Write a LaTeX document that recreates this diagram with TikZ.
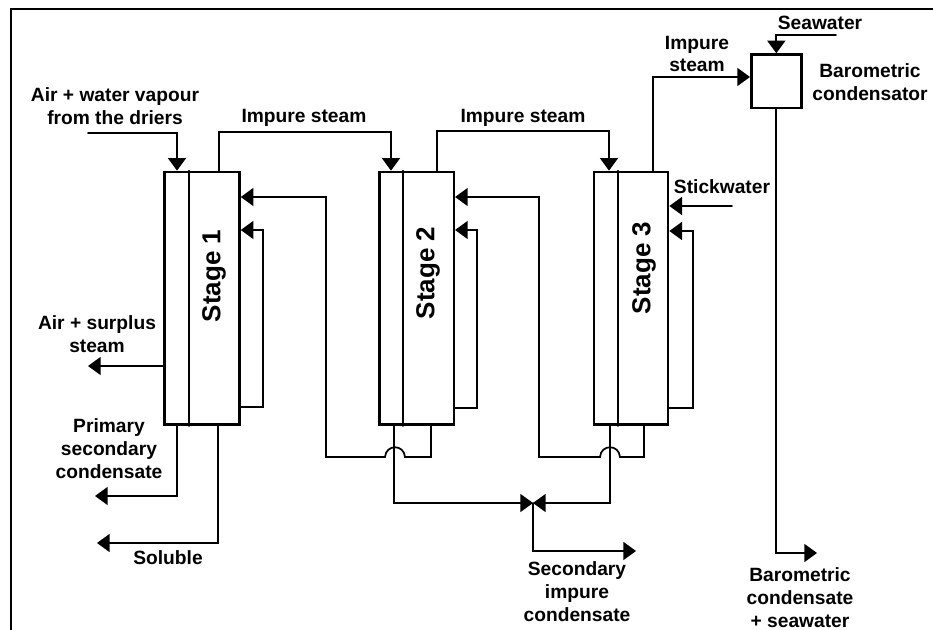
\documentclass[tikz,border=0pt]{standalone}
\usepackage{fontspec}
\setmainfont{Liberation Sans}
\usetikzlibrary{arrows.meta}

\tikzset{
    unit/.style={draw, line width=1.9pt, rectangle, inner sep=0pt, anchor=north west},
    flow/.style={line width=1.3pt, -{Triangle[length=9.5pt,width=13.5pt]}},
    pipe/.style={line width=1.3pt},
    lbl/.style={align=center, inner sep=0pt, font=\bfseries\fontsize{14.4}{17.2}\selectfont},
    stagelbl/.style={rotate=90, inner sep=0pt, font=\bfseries\fontsize{19.5}{22}\selectfont},
}

\begin{document}
\begin{tikzpicture}[x=0.75pt, y=-0.75pt, line cap=round, line join=miter]
    \useasboundingbox (0,0) rectangle (933,630);
    \draw[line width=1.6pt] (11,630) -- (11,9) -- (933,9);

    % the three stages and the condensator
    \node[unit, minimum width=56.2pt, minimum height=189.6pt] (stageA) at (163.3,170.7) {};
    \node[unit, minimum width=55.9pt, minimum height=189.6pt] (stageB) at (378,170.7) {};
    \node[unit, minimum width=55.6pt, minimum height=189.6pt] (stageC) at (592.7,170.7) {};
    \node[unit, minimum width=37.6pt, minimum height=40.1pt] (cond) at (750,53.3) {};

    \draw[pipe] (189,0 |- stageA.north) -- (189,0 |- stageA.south);
    \draw[pipe] (403,0 |- stageB.north) -- (403,0 |- stageB.south);
    \draw[pipe] (618,0 |- stageC.north) -- (618,0 |- stageC.south);

    \node[stagelbl] (nameA) at (214,276) {Stage 1};
    \node[stagelbl] (nameB) at (428,273) {Stage 2};
    \node[stagelbl] (nameC) at (644,268) {Stage 3};

    % free ends
    \coordinate (driers) at (88,133);
    \coordinate (surplus) at (88,366);
    \coordinate (primary) at (95,496);
    \coordinate (soluble) at (97,543);
    \coordinate (stick) at (732,206);
    \coordinate (sea) at (836,35);
    \coordinate (barOut) at (817,553);
    \coordinate (impOut) at (636,551);
    \coordinate (junction) at (533,503);

    % steam
    \draw[flow] (driers) -| (177,0 |- stageA.north);
    \draw[flow] (219,0 |- stageA.north) |- (305,132) -| (391,0 |- stageB.north);
    \draw[flow] (437,0 |- stageB.north) |- (520,131) -| (609,0 |- stageC.north);
    \draw[flow] (653,0 |- stageC.north) |- (cond.west |- 0,77);
    \draw[flow] (sea) -| (cond.north);
    \draw[flow] (cond.south) |- (barOut);
    \draw[flow] (stick) -- (stageC.east |- stick);

    % recycle loops
    \draw[flow] (stageA.east |- 0,407) -| (263,318) |- (stageA.east |- 0,230);
    \draw[flow] (stageB.east |- 0,408) -| (477,318) |- (stageB.east |- 0,230);
    \draw[flow] (stageC.east |- 0,408) -| (693,318) |- (stageC.east |- 0,231);

    % condensate passed back, hopping over the outlet
    \draw[flow] (431,0 |- stageB.south) |- (405,457)
        .. controls (404,444) and (386,444) .. (385,457)
        -| (326,300) |- (stageA.east |- 0,197);
    \draw[flow] (644,0 |- stageC.south) |- (620,457)
        .. controls (619,444) and (601,444) .. (600,457)
        -| (539,300) |- (stageB.east |- 0,197);

    % outlets
    \draw[flow] (stageA.west |- surplus) -- (surplus);
    \draw[flow] (177,0 |- stageA.south) |- (primary);
    \draw[flow] (218,0 |- stageA.south) |- (soluble);
    \draw[flow] (394,0 |- stageB.south) |- (junction);
    \draw[flow] (610,0 |- stageC.south) |- (junction);
    \draw[flow] (junction) |- (impOut);

    \node[lbl] (txtDriers) at (115,106) {Air + water vapour\\from the driers};
    \node[lbl] (txtSteamA) at (304,118) {Impure steam};
    \node[lbl] (txtSteamB) at (523,118) {Impure steam};
    \node[lbl] (txtSteamC) at (697,54) {Impure\\steam};
    \node[lbl] (txtSea) at (820,23) {Seawater};
    \node[lbl] (txtCond) at (870,82) {Barometric\\condensator};
    \node[lbl] (txtStick) at (722,187) {Stickwater};
    \node[lbl] (txtSurplus) at (97,334) {Air + surplus\\steam};
    \node[lbl] (txtPrimary) at (109,449) {Primary\\secondary\\condensate};
    \node[lbl] (txtSoluble) at (168,558) {Soluble};
    \node[lbl] (txtImpure) at (577,592) {Secondary\\impure\\condensate};
    \node[lbl] (txtBar) at (800,598) {Barometric\\condensate\\+ seawater};
\end{tikzpicture}
\end{document}
